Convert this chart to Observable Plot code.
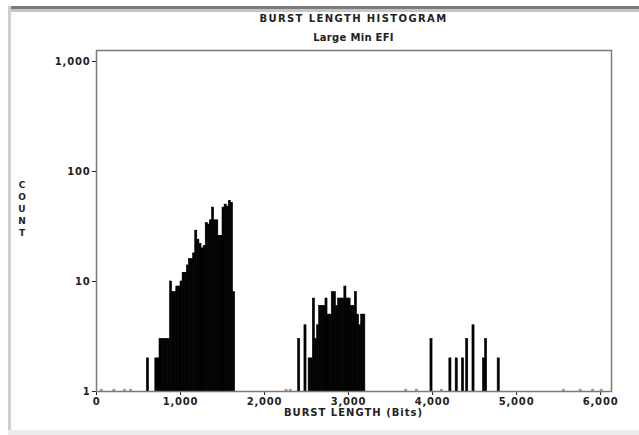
<!DOCTYPE html>
<html><head><meta charset="utf-8">
<script src="https://cdn.jsdelivr.net/npm/d3@7"></script>
<script src="https://cdn.jsdelivr.net/npm/@observablehq/plot@0.6"></script>
<style>
body{margin:0;background:#fff;}
#wrap{position:relative;width:639px;height:435px;overflow:hidden;font-family:"DejaVu Sans",sans-serif;color:#222;}
#wrap svg{position:absolute;left:0;top:0;}
.bar-dark{position:absolute;left:8px;top:6px;width:631px;height:3px;background:#7d7d7d;}
.bar-light{position:absolute;left:8px;top:9px;width:631px;height:3px;background:#c6c6c6;}
.side{position:absolute;left:8px;top:6px;width:3px;height:429px;background:#cfcfcf;}
.bottom{position:absolute;left:8px;top:430px;width:631px;height:5px;background:#ececec;}
.title{position:absolute;left:96px;width:515px;text-align:center;font-weight:bold;font-size:10px;letter-spacing:1.4px;}
.ylab{position:absolute;left:16px;top:179px;width:12px;text-align:center;font-weight:bold;font-size:9px;line-height:12px;}
.xlab{position:absolute;left:96px;width:515px;top:407px;text-align:center;font-weight:bold;font-size:10px;letter-spacing:1px;}
</style></head><body>
<div id="wrap">
  <div class="bar-dark"></div><div class="bar-light"></div><div class="side"></div><div class="bottom"></div>
  <div class="title" id="t1" style="top:13px"></div>
  <div class="title" id="t2" style="top:32px;letter-spacing:0.3px"></div>
  <div class="ylab" id="yl"></div>
  <div class="xlab" id="xl"></div>
</div>
<script>
const titleText = "BURST LENGTH HISTOGRAM";
const subtitleText = "Large Min EFI";
const xLabel = "BURST LENGTH (Bits)";
const yLabel = "COUNT";
const binWidth = 25;
const binStart = [
  50, 200, 325, 400, 600,
  700, 725, 750, 775, 800, 825, 850, 875, 900, 925, 950, 975,
  1000, 1025, 1050, 1075, 1100, 1125, 1150, 1175, 1200, 1225, 1250, 1275,
  1300, 1325, 1350, 1375, 1400, 1425, 1450, 1475, 1500, 1525, 1550, 1575, 1600, 1625,
  2250, 2300, 2400, 2475,
  2525, 2550, 2575, 2600, 2625, 2650, 2675, 2700, 2725, 2750, 2775, 2800, 2825, 2850, 2875,
  2900, 2925, 2950, 2975, 3000, 3025, 3050, 3075, 3100, 3125, 3150, 3175,
  3675, 3800, 3975, 4100, 4200, 4275, 4350, 4400, 4475, 4600, 4625, 4775,
  5550, 5750, 5900, 6000
];
const count = [
  1, 1, 1, 1, 2,
  2, 2, 3, 3, 3, 3, 3, 10, 8, 8, 9, 9,
  10, 12, 12, 14, 16, 16, 18, 29, 24, 22, 20, 21,
  34, 33, 36, 47, 36, 36, 26, 26, 47, 50, 48, 54, 52, 8,
  1, 1, 3, 4,
  2, 2, 7, 3, 4, 6, 6, 6, 7, 5, 5, 8, 8, 6, 7,
  7, 7, 9, 7, 7, 6, 6, 8, 5, 4, 5, 5,
  1, 1, 3, 1, 2, 2, 2, 3, 4, 2, 3, 2,
  1, 1, 1, 1
];
const xTicks = [0, 1000, 2000, 3000, 4000, 5000, 6000];
const yTicks = [1, 10, 100, 1000];

document.getElementById("t1").textContent = titleText;
document.getElementById("t2").textContent = subtitleText;
document.getElementById("xl").textContent = xLabel;
document.getElementById("yl").innerHTML = yLabel.split("").join("<br>");

const bins = binStart.map((b, i) => ({x1: b, x2: b + binWidth, count: count[i]}));

const chart = Plot.plot({
  width: 639,
  height: 435,
  marginLeft: 96,
  marginRight: 28,
  marginTop: 50,
  marginBottom: 44,
  style: {fontFamily: "DejaVu Sans, sans-serif", fontSize: "10px", fontWeight: "bold", color: "#222", background: "transparent"},
  x: {domain: [0, 6130], ticks: xTicks, tickFormat: d3.format(","), tickSize: 4, tickPadding: 2, label: null},
  y: {type: "log", domain: [1, 1259], ticks: yTicks, tickFormat: d3.format(","), tickSize: 4, tickPadding: 2, label: null},
  marks: [
    Plot.rectY(bins, {
      x1: "x1", x2: "x2", y1: 1,
      y2: d => d.count === 1 ? 1.04 : d.count,
      fill: d => d.count === 1 ? "#999" : "#000",
      stroke: d => d.count === 1 ? "#999" : "#000",
      strokeWidth: 0.6
    }),
    Plot.frame({stroke: "#7a7a7a", strokeWidth: 1.5})
  ]
});
chart.querySelectorAll("[aria-label$='tick label']").forEach(e => e.setAttribute("letter-spacing", "0.8"));
document.getElementById("wrap").appendChild(chart);
</script>
</body></html>
